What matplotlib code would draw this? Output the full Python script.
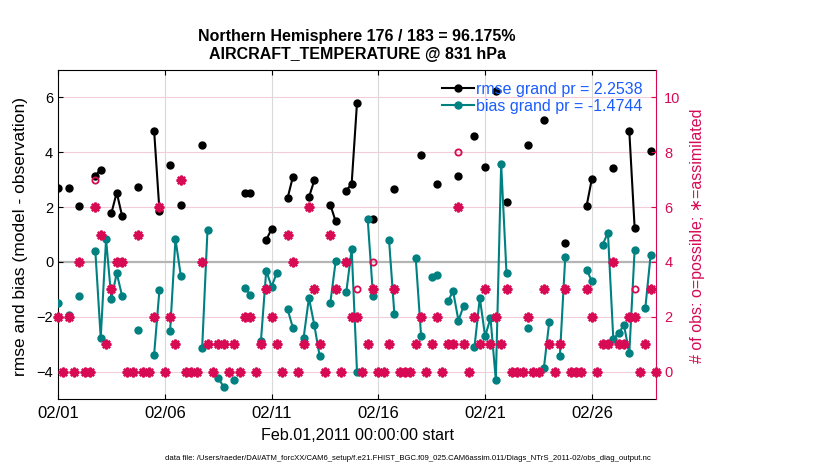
import numpy as np
import pandas as pd
import matplotlib
matplotlib.use('Agg')
import matplotlib.pyplot as plt
import matplotlib.dates as mdates
from matplotlib.lines import Line2D

nan = np.nan

# ---------------- data (6-hourly bins starting 2011-02-01 00:00) ----------------
start_time = '2011-02-01 00:00'
bin_step = '6h'

rmse = [2.69, nan, 2.70, nan, 2.04, nan, nan, 3.15, 3.37, nan,
        1.78, 2.53, 1.68, nan, nan, 2.75, nan, nan, 4.79, 1.87,
        nan, 3.54, nan, 2.06, nan, nan, nan, 4.27, nan, nan,
        nan, nan, nan, nan, nan, 2.50, 2.50, nan, nan, 0.80,
        1.20, nan, nan, 2.33, 3.11, nan, nan, 2.36, 2.97, nan,
        nan, 2.09, 1.48, nan, 2.60, 2.85, 5.80, nan, nan, 1.57,
        nan, nan, nan, 2.66, nan, nan, nan, nan, 3.90, nan,
        nan, 2.85, nan, nan, nan, 3.15, nan, nan, 4.61, nan,
        3.48, nan, 6.22, nan, 2.18, nan, nan, nan, 4.27, nan,
        nan, 5.16, nan, nan, nan, 0.69, nan, nan, nan, 2.04,
        3.04, nan, nan, nan, 3.43, nan, nan, 4.77, 1.24, nan,
        nan, 4.05, nan]

bias = [-1.50, nan, -1.92, nan, -1.24, nan, nan, 0.38, -2.77, 0.82,
        -1.35, -0.41, -1.24, nan, nan, -2.48, nan, nan, -3.38, -1.02,
        nan, -2.51, 0.84, -0.51, nan, nan, nan, -3.14, 1.17, nan,
        -4.23, -4.55, nan, -4.31, nan, -0.95, -1.20, nan, -2.90, -0.32,
        -0.90, -0.39, nan, -1.72, -2.41, nan, -2.77, -1.31, -2.30, -3.43,
        nan, -1.50, 0.02, nan, -1.10, 0.47, -4.00, nan, 1.57, -1.24,
        nan, nan, 0.80, -1.90, nan, nan, nan, 0.15, -2.69, nan,
        -0.54, -0.46, nan, -1.44, -1.07, -2.14, -1.59, nan, -3.11, -1.31,
        -2.72, -2.04, -4.31, 3.58, -0.41, nan, nan, nan, -2.41, nan,
        nan, -3.87, -2.20, nan, -3.42, 0.17, nan, nan, nan, -0.28,
        -0.71, nan, 0.63, 1.06, -2.81, -2.60, -2.30, -3.33, 0.45, nan,
        -1.68, 0.26, nan]

n_used = [2, 0, 2, 0, 4, 0, 0, 6, 5, 1,
          3, 4, 4, 0, 0, 5, 0, 0, 2, 6,
          0, 2, 1, 7, 0, 0, 0, 4, 1, 0,
          1, 1, 0, 1, 0, 2, 2, 0, 1, 3,
          2, 1, 0, 5, 4, 0, 1, 6, 3, 1,
          0, 5, 3, 0, 4, 2, 2, 0, 1, 3,
          0, 0, 1, 3, 0, 0, 0, 1, 2, 0,
          1, 2, 0, 1, 1, 6, 1, 0, 2, 1,
          3, 1, 2, 1, 3, 0, 0, 0, 2, 0,
          0, 3, 1, 0, 1, 3, 0, 0, 0, 3,
          2, 0, 1, 1, 4, 1, 1, 2, 2, 0,
          1, 3, 0]

n_poss = [2, 0, 2, 0, 4, 0, 0, 7, 5, 1,
          3, 4, 4, 0, 0, 5, 0, 0, 2, 6,
          0, 2, 1, 7, 0, 0, 0, 4, 1, 0,
          1, 1, 0, 1, 0, 2, 2, 0, 1, 3,
          2, 1, 0, 5, 4, 0, 1, 6, 3, 1,
          0, 5, 3, 0, 4, 2, 3, 0, 1, 4,
          0, 0, 1, 3, 0, 0, 0, 1, 2, 0,
          1, 2, 0, 1, 1, 8, 1, 0, 2, 1,
          3, 1, 2, 1, 3, 0, 0, 0, 2, 0,
          0, 3, 1, 0, 1, 3, 0, 0, 0, 3,
          2, 0, 1, 1, 4, 1, 1, 2, 3, 0,
          1, 3, 0]

tick_dates = ['2011-02-01', '2011-02-06', '2011-02-11', '2011-02-16', '2011-02-21', '2011-02-26']
legend_labels = ['rmse grand pr = 2.2538', 'bias grand pr = -1.4744']
title_lines = ['Northern Hemisphere 176 / 183 = 96.175%', 'AIRCRAFT_TEMPERATURE @ 831 hPa']
left_ylabel = 'rmse and bias (model - observation)'
right_ylabel = '# of obs: o=possible; \u2217=assimilated'
xlabel = 'Feb.01,2011 00:00:00 start'
footnote = ('data file: /Users/raeder/DAI/ATM_forcXX/CAM6_setup/f.e21.FHIST_BGC.f09_025.'
            'CAM6assim.011/Diags_NTrS_2011-02/obs_diag_output.nc')

# ---------------- styling ----------------
plt.rcParams['font.family'] = ['Liberation Sans', 'DejaVu Sans']
obs_color = '#D70A53'
bias_color = '#008080'
legend_text_color = '#1A5CFF'
pink_grid = '#F3CCDA'

times = pd.date_range(start_time, periods=len(rmse), freq=bin_step).to_pydatetime()

W, H = 830, 470
fig = plt.figure(figsize=(W / 100, H / 100), dpi=100)
ax_l, ax_r, ax_b, ax_t = 58, 656, 399, 70
ax = fig.add_axes([ax_l / W, 1 - ax_b / H, (ax_r - ax_l) / W, (ax_b - ax_t) / H])

ax.set_xlim(pd.Timestamp('2011-02-01').to_pydatetime(), pd.Timestamp('2011-03-01').to_pydatetime())
ax.set_ylim(-5, 7)
ax.set_yticks([-4, -2, 0, 2, 4, 6])
ax.set_xticks([pd.Timestamp(d).to_pydatetime() for d in tick_dates])
ax.xaxis.set_major_formatter(mdates.DateFormatter('%m/%d'))

# grids
for yv in [-4, -2, 2, 4, 6]:
    ax.axhline(yv, color=pink_grid, lw=0.8, zorder=0)
for d in tick_dates[1:]:
    ax.axvline(pd.Timestamp(d).to_pydatetime(), color='#D9D9D9', lw=0.8, zorder=0)
ax.axhline(0, color='#B5B5B5', lw=1.6, zorder=1)

ax.plot(times, rmse, color='k', marker='o', ms=5, lw=1.5, zorder=3)
ax.plot(times, bias, color=bias_color, marker='o', ms=5, lw=1.5, zorder=4)

ax.tick_params(axis='both', direction='in', length=3.5, width=0.8, labelsize=10.5,
               top=True, right=False, colors='k')
ax.tick_params(axis='x', pad=5, labelsize=12)
for s in ['left', 'top', 'bottom']:
    ax.spines[s].set_linewidth(0.8)
ax.spines['right'].set_visible(False)

ax2 = ax.twinx()
ax2.set_ylim(-1, 11)
ax2.set_yticks([0, 2, 4, 6, 8, 10])
ax2.plot(times, n_poss, linestyle='none', marker='o', ms=4.5, mfc='none', mec=obs_color, mew=1.3, zorder=5)
ax2.plot(times, n_used, linestyle='none', marker=(8, 2, 0), ms=7, mec=obs_color, mew=1.7, zorder=6)
ax2.tick_params(axis='y', direction='in', length=3.5, width=0.8, labelsize=10.5,
                colors=obs_color, pad=6)
ax2.spines['right'].set_color(obs_color)
ax2.spines['right'].set_linewidth(0.8)
for s in ['left', 'top', 'bottom']:
    ax2.spines[s].set_visible(False)
for c in ax2.lines:
    c.set_clip_on(False)

# legend
handles = [Line2D([], [], color='k', marker='o', ms=5, lw=1.5),
           Line2D([], [], color=bias_color, marker='o', ms=5, lw=1.5)]
leg = ax2.legend(handles, legend_labels, loc='upper right', frameon=False,
                 bbox_to_anchor=(643 / W, 1 - 82 / H), bbox_transform=fig.transFigure,
                 borderaxespad=0, borderpad=0, handlelength=2.0, handletextpad=0.15,
                 labelspacing=0.12, fontsize=11.5)
for t in leg.get_texts():
    t.set_color(legend_text_color)

# texts
cx = (ax_l + ax_r) / 2 / W
fig.text(cx, 1 - 37 / H, title_lines[0], ha='center', va='center', fontsize=11.5, fontweight='bold')
fig.text(cx, 1 - 55 / H, title_lines[1], ha='center', va='center', fontsize=11.5, fontweight='bold')
fig.text(21 / W, 1 - 236 / H, left_ylabel, rotation=90, ha='center', va='center', fontsize=12.5)
fig.text(697 / W, 1 - 236 / H, right_ylabel, rotation=90, ha='center', va='center',
         fontsize=11.5, color=obs_color, family=['Liberation Sans', 'DejaVu Sans'])
fig.text(cx, 1 - 436 / H, xlabel, ha='center', va='center', fontsize=11.6)
fig.text(408 / W, 1 - 458 / H, footnote, ha='center', va='center', fontsize=5.6)

fig.savefig('out.png', dpi=100)
